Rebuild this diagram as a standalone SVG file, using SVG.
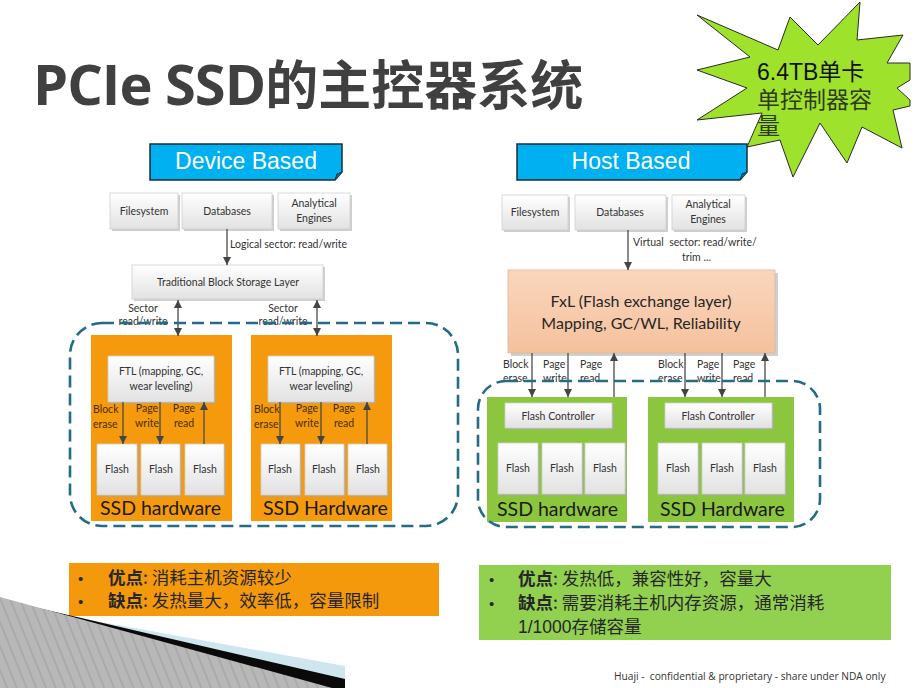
<svg xmlns="http://www.w3.org/2000/svg" width="922" height="688" viewBox="0 0 922 688">
<defs>
<linearGradient id="gbox" x1="0" y1="0" x2="0" y2="1"><stop offset="0" stop-color="#ffffff"/><stop offset="1" stop-color="#e2e2e2"/></linearGradient>
<linearGradient id="gfxl" x1="0" y1="0" x2="0" y2="1"><stop offset="0" stop-color="#fad6bd"/><stop offset="1" stop-color="#f5c19d"/></linearGradient>
<pattern id="stripes" width="9" height="9" patternUnits="userSpaceOnUse" patternTransform="rotate(-22)"><rect width="9" height="9" fill="#b8b8b8"/><line x1="1" y1="0" x2="1" y2="9" stroke="#9c9c9c" stroke-width="1"/></pattern>
<marker id="ah" viewBox="0 0 10 10" refX="10" refY="5" markerWidth="8" markerHeight="10" markerUnits="userSpaceOnUse" orient="auto-start-reverse"><path d="M0,0 L10,5 L0,10 z" fill="#444"/></marker>
<style>
.sh{fill:#a8a8a8;opacity:.55}
.bx{fill:url(#gbox);stroke:#cfcfcf;stroke-width:.8}
.t{font-family:Lato,"Open Sans",sans-serif;font-size:10.5px;fill:#333}
.tc{text-anchor:middle}
.lb{font-family:Lato,"Open Sans",sans-serif;font-size:10.5px;fill:#4a2e00}
.lbh{font-family:Lato,"Open Sans",sans-serif;font-size:10.5px;fill:#333}
.hw{font-family:Lato,"Open Sans",sans-serif;font-size:19.5px;fill:#1a1a1a}
.arr{stroke:#4a4a4a;stroke-width:1.3;fill:none;marker-end:url(#ah)}
.arr2{stroke:#4a4a4a;stroke-width:1.3;fill:none;marker-end:url(#ah);marker-start:url(#ah)}
.dash{fill:none;stroke:#236b86;stroke-width:2.6;stroke-dasharray:12 6}
.orange{fill:#f49a0c}
.green{fill:#8cc63f}
.ttl{fill:#00b0f0;stroke:#1c2c3a;stroke-width:1.5}
.ttx{font-family:"Liberation Sans",Arial,sans-serif;font-size:23px;fill:#fff;text-anchor:middle}
.cn{font-family:"Noto Sans CJK SC",sans-serif;font-size:17.5px;fill:#262626}
.bul{font-family:"Liberation Sans",sans-serif;font-size:15px;fill:#262626}
</style>
</defs>
<rect width="922" height="688" fill="#ffffff"/>

<!-- title -->
<g id="title">
<text x="33" y="105" font-family="'Open Sans',sans-serif" font-weight="bold" font-size="56" letter-spacing="-1" fill="#404040">PCIe SSD<tspan font-family="'Noto Sans CJK SC',sans-serif" font-size="53" letter-spacing="0">的主控器系统</tspan></text>
</g>

<!-- star -->
<g id="star">
<polygon points="697,15 778,50 790,17 818,45 860,2 857,40 903,35 887,63 910,63 910,80 897,88 910,100 910,106 893,110 902,148 862,127 847,163 820,123 793,177 780,140 747,147 762,113 697,120 747,88 697,70 750,57" fill="#9fe22b" stroke="#2a2a2a" stroke-width="1"/>
<text font-family="'Liberation Sans','Noto Sans CJK SC',sans-serif" font-size="23" fill="#111">
<tspan x="757" y="80">6.4TB单卡</tspan>
<tspan x="757" y="108" fill="#2e3a18">单控制器容</tspan>
<tspan x="757" y="134" fill="#2e3a18">量</tspan>
</text>
</g>

<!-- ===== Device based ===== -->
<g id="device-based">
<path class="ttl" d="M150,144 H342 V172 L335,180 H150 Z"/>
<path d="M335,180 L337,174 L342,172" fill="#0a6e96" stroke="#1c2c3a" stroke-width="1"/>
<text class="ttx" x="246" y="169">Device Based</text>
</g>

<g id="l-filesystem"><rect class="sh" x="112" y="195" width="68" height="36"/><rect class="bx" x="110" y="193" width="68" height="36"/><text class="t tc" x="144" y="215">Filesystem</text></g>
<g id="l-databases"><rect class="sh" x="184" y="195" width="90" height="36"/><rect class="bx" x="182" y="193" width="90" height="36"/><text class="t tc" x="227" y="215">Databases</text></g>
<g id="l-analytical"><rect class="sh" x="280" y="195" width="72" height="36"/><rect class="bx" x="278" y="193" width="72" height="36"/><text class="t tc" x="314" y="207">Analytical</text><text class="t tc" x="314" y="222">Engines</text></g>
<g id="l-tbsl"><rect class="sh" x="134" y="267" width="191" height="34"/><rect class="bx" x="132" y="265" width="191" height="34"/><text class="t tc" x="228" y="286">Traditional Block Storage Layer</text></g>

<g id="l-ssd1">
<rect class="orange" x="91" y="335" width="141" height="186"/>
<rect class="sh" x="110" y="358" width="106" height="46"/><rect class="bx" x="108" y="356" width="106" height="46"/>
<text class="t tc" x="161" y="375">FTL (mapping, GC,</text><text class="t tc" x="161" y="390">wear leveling)</text>
<rect class="sh" x="99" y="446" width="40" height="51"/><rect class="bx" x="97" y="444" width="40" height="51"/><text class="t tc" x="117" y="473">Flash</text>
<rect class="sh" x="143" y="446" width="39" height="51"/><rect class="bx" x="141" y="444" width="39" height="51"/><text class="t tc" x="161" y="473">Flash</text>
<rect class="sh" x="187" y="446" width="39" height="51"/><rect class="bx" x="185" y="444" width="39" height="51"/><text class="t tc" x="205" y="473">Flash</text>
<text class="lb" x="93" y="413">Block</text><text class="lb" x="93" y="428">erase</text>
<text class="lb tc" x="147" y="412">Page</text><text class="lb tc" x="147" y="427">write</text>
<text class="lb tc" x="184" y="412">Page</text><text class="lb tc" x="184" y="427">read</text>
<text class="hw" x="100" y="515">SSD hardware</text>
</g>

<g id="l-ssd2">
<rect class="orange" x="251" y="335" width="141" height="186"/>
<rect class="sh" x="270" y="358" width="106" height="46"/><rect class="bx" x="268" y="356" width="106" height="46"/>
<text class="t tc" x="321" y="375">FTL (mapping, GC,</text><text class="t tc" x="321" y="390">wear leveling)</text>
<rect class="sh" x="263" y="446" width="39" height="51"/><rect class="bx" x="261" y="444" width="39" height="51"/><text class="t tc" x="280" y="473">Flash</text>
<rect class="sh" x="307" y="446" width="39" height="51"/><rect class="bx" x="305" y="444" width="39" height="51"/><text class="t tc" x="324" y="473">Flash</text>
<rect class="sh" x="350" y="446" width="39" height="51"/><rect class="bx" x="348" y="444" width="39" height="51"/><text class="t tc" x="368" y="473">Flash</text>
<text class="lb" x="254" y="413">Block</text><text class="lb" x="254" y="428">erase</text>
<text class="lb tc" x="307" y="412">Page</text><text class="lb tc" x="307" y="427">write</text>
<text class="lb tc" x="344" y="412">Page</text><text class="lb tc" x="344" y="427">read</text>
<text class="hw" x="263" y="515">SSD Hardware</text>
</g>

<!-- ===== Host based ===== -->
<g id="host-based">
<path class="ttl" d="M517,144 H747 V172 L740,180 H517 Z"/>
<path d="M740,180 L742,174 L747,172" fill="#0a6e96" stroke="#1c2c3a" stroke-width="1"/>
<text class="ttx" x="631" y="169">Host Based</text>
</g>

<g id="r-filesystem"><rect class="sh" x="504" y="197" width="66" height="35"/><rect class="bx" x="502" y="195" width="66" height="35"/><text class="t tc" x="535" y="216">Filesystem</text></g>
<g id="r-databases"><rect class="sh" x="577" y="197" width="91" height="35"/><rect class="bx" x="575" y="195" width="91" height="35"/><text class="t tc" x="620" y="216">Databases</text></g>
<g id="r-analytical"><rect class="sh" x="674" y="197" width="73" height="35"/><rect class="bx" x="672" y="195" width="73" height="35"/><text class="t tc" x="708" y="208">Analytical</text><text class="t tc" x="708" y="223">Engines</text></g>

<g id="r-fxl">
<rect class="sh" x="511" y="273" width="267" height="83"/>
<rect x="508" y="270" width="267" height="83" fill="url(#gfxl)" stroke="#d9b8a0" stroke-width=".8"/>
<text class="tc" x="641" y="307" font-family="Lato,'Open Sans',sans-serif" font-size="16" fill="#262626">FxL (Flash exchange layer)</text>
<text class="tc" x="641" y="329" font-family="Lato,'Open Sans',sans-serif" font-size="16" fill="#262626">Mapping, GC/WL, Reliability</text>
</g>

<g id="r-ssd1">
<rect class="green" x="487" y="397" width="140" height="125"/>
<rect class="sh" x="507" y="405" width="107" height="25"/><rect class="bx" x="505" y="403" width="107" height="25"/><text class="t tc" x="558" y="420">Flash Controller</text>
<rect class="sh" x="500" y="445" width="40" height="51"/><rect class="bx" x="498" y="443" width="40" height="51"/><text class="t tc" x="518" y="472">Flash</text>
<rect class="sh" x="544" y="445" width="40" height="51"/><rect class="bx" x="542" y="443" width="40" height="51"/><text class="t tc" x="562" y="472">Flash</text>
<rect class="sh" x="587" y="445" width="40" height="51"/><rect class="bx" x="585" y="443" width="40" height="51"/><text class="t tc" x="605" y="472">Flash</text>
<text class="hw" x="497" y="516">SSD hardware</text>
</g>

<g id="r-ssd2">
<rect class="green" x="648" y="397" width="146" height="125"/>
<rect class="sh" x="667" y="405" width="107" height="25"/><rect class="bx" x="665" y="403" width="107" height="25"/><text class="t tc" x="718" y="420">Flash Controller</text>
<rect class="sh" x="660" y="445" width="40" height="51"/><rect class="bx" x="658" y="443" width="40" height="51"/><text class="t tc" x="678" y="472">Flash</text>
<rect class="sh" x="704" y="445" width="40" height="51"/><rect class="bx" x="702" y="443" width="40" height="51"/><text class="t tc" x="722" y="472">Flash</text>
<rect class="sh" x="747" y="445" width="40" height="51"/><rect class="bx" x="745" y="443" width="40" height="51"/><text class="t tc" x="765" y="472">Flash</text>
<text class="hw" x="660" y="516">SSD Hardware</text>
</g>

<!-- connectors -->
<g id="connectors">
<line class="arr" x1="227" y1="229" x2="227" y2="265"/>
<text class="t" x="230" y="248">Logical sector: read/write</text>
<line class="arr2" x1="178" y1="300" x2="178" y2="336"/>
<line class="arr2" x1="317" y1="300" x2="317" y2="336"/>
<text class="t tc" x="143" y="312">Sector</text><text class="t tc" x="143" y="325">read/write</text>
<text class="t tc" x="283" y="312">Sector</text><text class="t tc" x="283" y="325">read/write</text>

<line class="arr" x1="123" y1="402" x2="123" y2="444"/>
<line class="arr" x1="160" y1="402" x2="160" y2="444"/>
<line class="arr" x1="204" y1="444" x2="204" y2="402"/>
<line class="arr" x1="280" y1="402" x2="280" y2="444"/>
<line class="arr" x1="321" y1="402" x2="321" y2="444"/>
<line class="arr" x1="367" y1="444" x2="367" y2="402"/>

<line class="arr" x1="628" y1="230" x2="628" y2="270"/>
<text class="t" x="633" y="246">Virtual&#160; sector: read/write/</text>
<text class="t" x="682" y="261">trim ...</text>

<line class="arr" x1="532" y1="353" x2="532" y2="397"/>
<line class="arr" x1="568" y1="353" x2="568" y2="397"/>
<line class="arr" x1="614" y1="397" x2="614" y2="353"/>
<line class="arr" x1="685" y1="353" x2="685" y2="397"/>
<line class="arr" x1="722" y1="353" x2="722" y2="397"/>
<line class="arr" x1="765" y1="397" x2="765" y2="353"/>
<text class="lbh" x="503" y="368">Block</text><text class="lbh" x="503" y="382">erase</text>
<text class="lbh" x="543" y="368">Page</text><text class="lbh" x="543" y="382">write</text>
<text class="lbh" x="580" y="368">Page</text><text class="lbh" x="580" y="382">read</text>
<text class="lbh" x="658" y="368">Block</text><text class="lbh" x="658" y="382">erase</text>
<text class="lbh" x="697" y="368">Page</text><text class="lbh" x="697" y="382">write</text>
<text class="lbh" x="733" y="368">Page</text><text class="lbh" x="733" y="382">read</text>
</g>

<g id="groups">
<rect class="dash" x="70" y="323" width="388" height="203" rx="32"/>
<rect class="dash" x="478" y="381" width="342" height="146" rx="28"/>
</g>

<!-- pros / cons -->
<g id="pros-cons-device">
<rect x="69" y="563" width="370" height="53" fill="#f5990c"/>
<text class="bul" x="78" y="584">•</text>
<text class="cn" x="108" y="584"><tspan font-weight="bold">优点</tspan>: 消耗主机资源较少</text>
<text class="bul" x="78" y="607">•</text>
<text class="cn" x="108" y="607"><tspan font-weight="bold">缺点</tspan>: 发热量大，效率低，容量限制</text>
</g>
<g id="pros-cons-host">
<rect x="479" y="565" width="412" height="75" fill="#92d050"/>
<text class="bul" x="489" y="585">•</text>
<text class="cn" x="518" y="585"><tspan font-weight="bold">优点</tspan>: 发热低，兼容性好，容量大</text>
<text class="bul" x="489" y="609">•</text>
<text class="cn" x="518" y="609"><tspan font-weight="bold">缺点</tspan>: 需要消耗主机内存资源，通常消耗</text>
<text class="cn" x="518" y="633"><tspan font-family="'Liberation Sans',sans-serif">1/1000</tspan>存储容量</text>
</g>

<!-- decoration -->
<g id="decoration">
<polygon points="40,611 345,666 345,688 0,688" fill="#cfe6ee"/>
<polygon points="8,601 345,679 345,688 0,688" fill="#0a0a0a"/>
<polygon points="0,597 332,688 0,688" fill="url(#stripes)"/>
</g>

<text x="614" y="680" font-family="'Open Sans',sans-serif" font-size="10.2" fill="#333">Huaji -&#160; confidential &amp; proprietary - share under NDA only</text>
</svg>
